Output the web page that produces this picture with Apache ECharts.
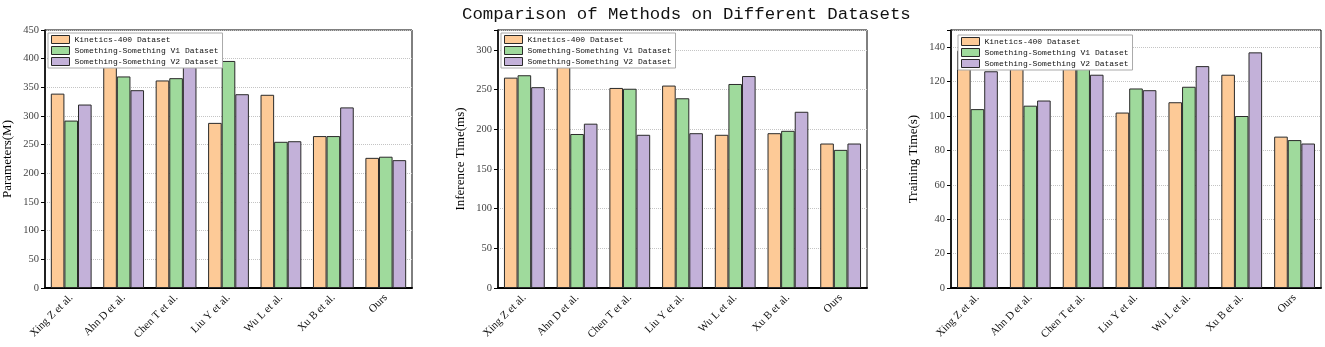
<!DOCTYPE html>
<html>
<head>
<meta charset="utf-8">
<script src="https://cdn.jsdelivr.net/npm/echarts@6/dist/echarts.min.js"></script>
<style>html,body{margin:0;padding:0;background:#fff;}#c{width:1325px;height:347px;}</style>
</head>
<body>
<div id="c"></div>
<script>
var categories = ['Xing Z et al.', 'Ahn D et al.', 'Chen T et al.', 'Liu Y et al.', 'Wu L et al.', 'Xu B et al.', 'Ours'];
var seriesNames = ['Kinetics-400 Dataset', 'Something-Something V1 Dataset', 'Something-Something V2 Dataset'];
var titleText = 'Comparison of Methods on Different Datasets';
var yNames = ['Parameters(M)', 'Inference Time(ms)', 'Training Time(s)'];

var paramsK400 = [339, 405, 362, 288, 337, 265, 227];
var paramsSSV1 = [292, 369, 366, 396, 255, 265, 229];
var paramsSSV2 = [320, 345, 395, 338, 256, 315, 223];

var inferK400 = [265, 285, 252, 255, 193, 195, 182];
var inferSSV1 = [268, 194, 251, 239, 257, 198, 174];
var inferSSV2 = [253, 207, 193, 195, 267, 222, 182];

var trainK400 = [138, 130, 129, 102, 108, 124, 88];
var trainSSV1 = [104, 106, 130, 116, 117, 100, 86];
var trainSSV2 = [126, 109, 124, 115, 129, 137, 84];

var yMax = [450, 325, 150];
var yInterval = [50, 50, 20];

var colors = ['#FDCA97', '#9FDA9C', '#C3B1D9'];
var panels = [
  [paramsK400, paramsSSV1, paramsSSV2],
  [inferK400, inferSSV1, inferSSV2],
  [trainK400, trainSSV1, trainSSV2]
];

var gridLeft = [42, 498, 951];
var gridWidth = [370, 369, 370];
var serif = 'Liberation Serif';
var mono = 'Liberation Mono';

var grids = [], xAxes = [], yAxes = [], series = [], legends = [];
for (var p = 0; p < 3; p++) {
  grids.push({left: gridLeft[p], width: gridWidth[p], top: 30, height: 258,
    show: true, borderColor: '#000', borderWidth: 1, backgroundColor: 'transparent'});
  xAxes.push({type: 'category', gridIndex: p, data: categories,
    axisLine: {lineStyle: {color: '#000', width: 2}},
    axisTick: {alignWithLabel: true, length: 4, lineStyle: {color: '#000'}},
    axisLabel: {rotate: 45, interval: 0, margin: 8, fontFamily: serif, fontSize: 11, color: '#111'}});
  (function (iv) {
    yAxes.push({type: 'value', gridIndex: p, min: 0, max: yMax[p], interval: iv,
      name: yNames[p], nameLocation: 'middle', nameGap: 31,
      nameTextStyle: {fontFamily: serif, fontSize: 13, color: '#000'},
      axisLine: {show: true, lineStyle: {color: '#000', width: 1.5}},
      axisTick: {show: true, length: 4, lineStyle: {color: '#000'}},
      axisLabel: {fontFamily: serif, fontSize: 10.5, color: '#444', margin: 6,
        formatter: function (v) { return (v % iv === 0) ? String(v) : ''; }},
      splitLine: {show: true, lineStyle: {color: '#c4c4c4', type: 'dotted', width: 1}}});
  })(yInterval[p]);
  for (var s = 0; s < 3; s++) {
    series.push({type: 'bar', name: seriesNames[s], xAxisIndex: p, yAxisIndex: p,
      data: panels[p][s], barWidth: 13.6, barGap: '0%',
      itemStyle: {color: colors[s], borderColor: '#2a2a2a', borderWidth: 1},
      emphasis: {disabled: true}});
  }
}
var legendPos = [[48, 33], [501, 33], [958, 35]];
for (var p2 = 0; p2 < 3; p2++) {
  legends.push({orient: 'vertical', left: legendPos[p2][0], top: legendPos[p2][1],
    data: seriesNames, icon: 'rect', itemWidth: 18, itemHeight: 8, itemGap: 2,
    padding: [2, 4, 2, 3], backgroundColor: '#fff', borderColor: '#aaa', borderWidth: 1,
    selectedMode: false,
    textStyle: {fontFamily: mono, fontSize: 8, color: '#111', lineHeight: 8.3, padding: [0, 0, 0, 0]},
    itemStyle: {borderColor: '#2a2a2a', borderWidth: 1}});
}

var chart = echarts.init(document.getElementById('c'), null, {renderer: 'canvas'});
chart.setOption({
  animation: false,
  backgroundColor: '#fff',
  title: {text: titleText, left: 457, top: 1,
    textStyle: {fontFamily: mono, fontSize: 17.4, fontWeight: 'normal', color: '#111'}},
  grid: grids, xAxis: xAxes, yAxis: yAxes, series: series, legend: legends
});
</script>
</body>
</html>
